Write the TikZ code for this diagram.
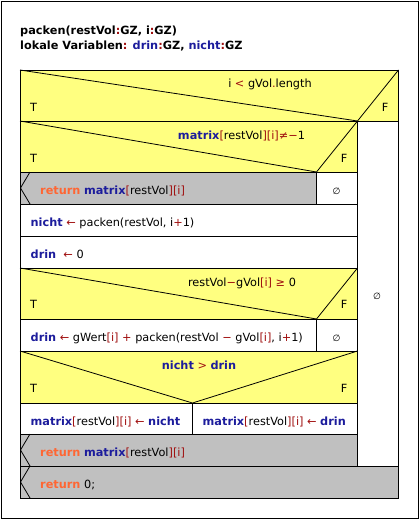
\documentclass[tikz,border=0pt]{standalone}
\usepackage{fontspec}
\setmainfont{DejaVu Sans}
\usetikzlibrary{positioning}
\definecolor{nsyellow}{RGB}{255,255,128}
\definecolor{nsgray}{RGB}{192,192,192}
\definecolor{kwblue}{RGB}{28,28,156}
\definecolor{opred}{RGB}{160,16,16}
\definecolor{retorange}{RGB}{255,102,51}
\newcommand{\kw}[1]{\textbf{\textcolor{kwblue}{#1}}}
\newcommand{\op}[1]{\textcolor{opred}{#1}}
\newcommand{\ret}{\textbf{\textcolor{retorange}{return}}}
\newcommand{\mtx}{\kw{matrix}\op{[}restVol\op{][i]}}

\begin{document}
\begin{tikzpicture}[x=1pt, y=-1pt,
	txt/.style={inner sep=0pt, font=\fontsize{11.3}{13}\selectfont},
	lbl/.style={txt, anchor=base west},
	mid/.style={txt, anchor=base},
	cell/.style={draw=black, line width=0.8pt}
	]
	\useasboundingbox (0,0) rectangle (419,519);
	\draw[line width=0.9pt] (1,1) rectangle (418,518);
	
	% header
	\node[lbl, font=\fontsize{11.3}{13}\selectfont\bfseries] (head1) at (20,35)
	{packen(restVol\op{:}GZ, i\op{:}GZ)};
	\node[lbl, font=\fontsize{11.3}{13}\selectfont\bfseries] (head2) at (20,50)
	{lokale Variablen\op{:} \kw{drin}\op{:}GZ, \kw{nicht}\op{:}GZ};
	
	% fills
	\fill[nsyellow] (20,70) rectangle (398.5,121);
	\fill[nsyellow] (20,121) rectangle (357.5,172);
	\fill[nsgray] (20,172) rectangle (316.5,204);
	\fill[nsyellow] (20,268) rectangle (357.5,319);
	\fill[nsyellow] (20,351) rectangle (357.5,403);
	\fill[nsgray] (20,434) rectangle (357.5,466);
	\fill[nsgray] (20,466) rectangle (398.5,498);
	
	% outer if
	\draw[cell] (20,70) rectangle (398.5,121);
	\draw[cell] (20,70) -- (357.5,121) -- (398.5,70);
	\draw[cell] (357.5,121) rectangle (398.5,466);
	% inner if
	\draw[cell] (20,121) rectangle (357.5,172);
	\draw[cell] (20,121) -- (316.5,172) -- (357.5,121);
	\draw[cell] (20,172) rectangle (316.5,204);
	\draw[cell] (316.5,172) rectangle (357.5,204);
	\draw[cell] (30,172) -- (20.5,188) -- (30,204);
	% assignments
	\draw[cell] (20,204) rectangle (357.5,236);
	\draw[cell] (20,236) rectangle (357.5,268);
	% second if
	\draw[cell] (20,268) rectangle (357.5,319);
	\draw[cell] (20,268) -- (316.5,319) -- (357.5,268);
	\draw[cell] (20,319) rectangle (316.5,351);
	\draw[cell] (316.5,319) rectangle (357.5,351);
	% third if
	\draw[cell] (20,351) rectangle (357.5,403);
	\draw[cell] (20,351) -- (192.5,403) -- (357.5,351);
	\draw[cell] (20,403) rectangle (192.5,434);
	\draw[cell] (192.5,403) rectangle (357.5,434);
	% returns
	\draw[cell] (20,434) rectangle (357.5,466);
	\draw[cell] (30,434) -- (20.5,450) -- (30,466);
	\draw[cell] (20,466) rectangle (398.5,498);
	\draw[cell] (30,466) -- (20.5,482) -- (30,498);
	
	% texts
	\node[mid] (cond1) at (270,88) {i \op{<} gVol\op{.}length};
	\node[lbl] (t1) at (30,111) {T};
	\node[mid] (f1) at (385,111) {F};
	\node[mid] (cond2) at (241.5,139) {\mtx\op{≠−}1};
	\node[lbl] (t2) at (30,162) {T};
	\node[mid] (f2) at (344,162) {F};
	\node[lbl] (ret1) at (40,194) {\ret{} \mtx};
	\node[mid, font=\fontsize{9}{11}\selectfont] (empty1) at (336.5,194) {∅};
	\node[lbl] (asnicht) at (30.5,226) {\kw{nicht} \op{←} packen(restVol, i\op{+}1)};
	\node[lbl] (asdrin) at (30.5,258) {\kw{drin} \ \op{←} 0};
	\node[mid] (cond3) at (242,286) {restVol\op{−}gVol\op{[i]} \op{≥} 0};
	\node[lbl] (t3) at (30,308) {T};
	\node[mid] (f3) at (344,308) {F};
	\node[mid, font=\fontsize{9}{11}\selectfont] (empty0) at (377,299) {∅};
	\node[lbl] (asdrin2) at (30.5,341)
	{\kw{drin} \op{←} gWert\op{[i]} \op{+} packen(restVol \op{−} gVol\op{[i]}, i\op{+}1)};
	\node[mid, font=\fontsize{9}{11}\selectfont] (empty2) at (336.5,341) {∅};
	\node[mid] (cond4) at (199,369) {\kw{nicht} \op{>} \kw{drin}};
	\node[lbl] (t4) at (30,392) {T};
	\node[mid] (f4) at (344,392) {F};
	\node[lbl] (mnicht) at (30.5,425) {\mtx{} \op{←} \kw{nicht}};
	\node[lbl] (mdrin) at (202.5,425) {\mtx{} \op{←} \kw{drin}};
	\node[lbl] (ret2) at (40,456) {\ret{} \mtx};
	\node[lbl] (ret3) at (40,488) {\ret{} 0;};
\end{tikzpicture}
\end{document}
